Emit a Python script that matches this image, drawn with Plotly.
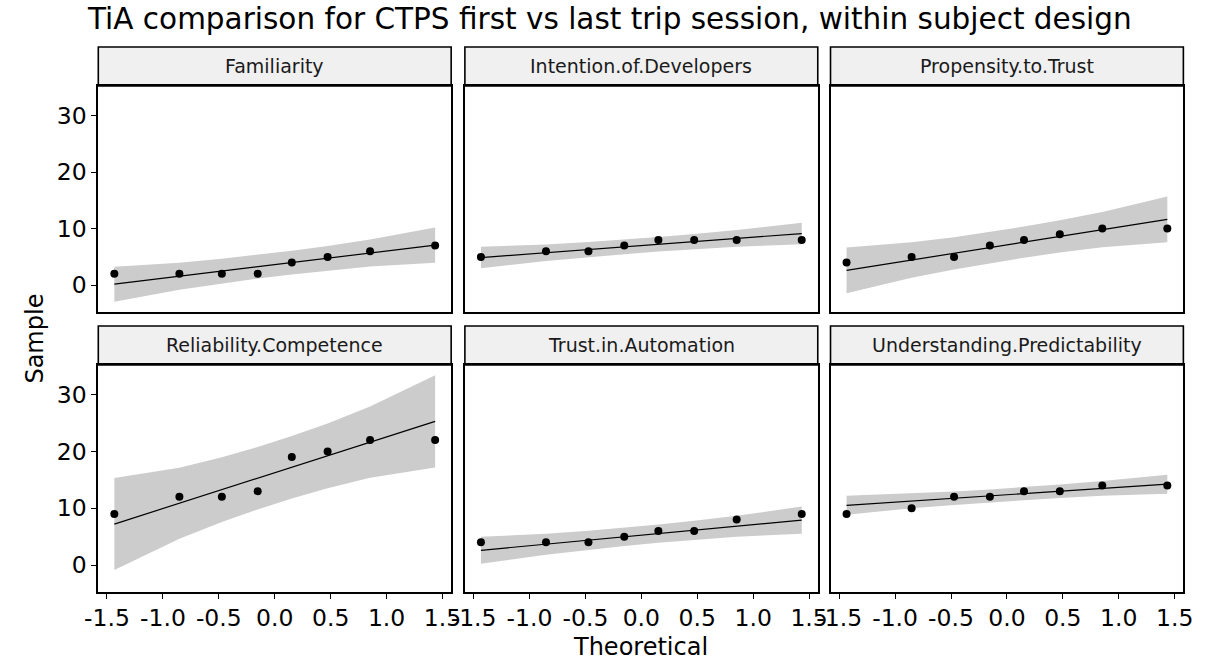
import numpy as np
from statistics import NormalDist
import plotly.graph_objects as go

# Sorted sample scores per TiA subscale (8 subjects each)
facets = ["Familiarity", "Intention.of.Developers", "Propensity.to.Trust",
          "Reliability.Competence", "Trust.in.Automation", "Understanding.Predictability"]
familiarity = [2, 2, 2, 2, 4, 5, 6, 7]
intention_of_developers = [5, 6, 6, 7, 8, 8, 8, 8]
propensity_to_trust = [4, 5, 5, 7, 8, 9, 10, 10]
reliability_competence = [9, 12, 12, 13, 19, 20, 22, 22]
trust_in_automation = [4, 4, 4, 5, 6, 6, 8, 9]
understanding_predictability = [9, 10, 12, 12, 13, 13, 14, 14]
samples = [familiarity, intention_of_developers, propensity_to_trust,
           reliability_competence, trust_in_automation, understanding_predictability]

x_ticks = [-1.5, -1.0, -0.5, 0.0, 0.5, 1.0, 1.5]
x_tick_labels = ["-1.5", "-1.0", "-0.5", "0.0", "0.5", "1.0", "1.5"]
y_ticks = [0, 10, 20, 30]
y_tick_labels = ["0", "10", "20", "30"]

title = "TiA comparison for CTPS first vs last trip session, within subject design"
conf_level = 0.95

nd = NormalDist()


def ppoints(n):
    a = 3 / 8 if n <= 10 else 0.5
    return [(i + 1 - a) / (n + 1 - 2 * a) for i in range(n)]


def qq_stats(values):
    """Theoretical quantiles, sorted sample, quartile line and pointwise band."""
    y = np.sort(np.asarray(values, dtype=float))
    n = len(y)
    p = np.array(ppoints(n))
    z = np.array([nd.inv_cdf(v) for v in p])
    q_x = np.quantile(y, [0.25, 0.75])
    q_z = np.array([nd.inv_cdf(0.25), nd.inv_cdf(0.75)])
    slope = (q_x[1] - q_x[0]) / (q_z[1] - q_z[0])
    intercept = q_x[0] - slope * q_z[0]
    zz = nd.inv_cdf(1 - (1 - conf_level) / 2)
    se = (slope / np.array([nd.pdf(v) for v in z])) * np.sqrt(p * (1 - p) / n)
    fit = intercept + slope * z
    return z, y, fit, fit + zz * se, fit - zz * se


stats = [qq_stats(s) for s in samples]

# Shared scales with 5% expansion, as in ggplot facets
all_x = np.concatenate([s[0] for s in stats])
all_y = np.concatenate([np.concatenate([s[1], s[3], s[4]]) for s in stats])
xr = [all_x.min(), all_x.max()]
yr = [all_y.min(), all_y.max()]
xpad = 0.05 * (xr[1] - xr[0])
ypad = 0.05 * (yr[1] - yr[0])
x_range = [xr[0] - xpad, xr[1] + xpad]
y_range = [yr[0] - ypad, yr[1] + ypad]

W, H = 1212, 662
col_px = [(86, 446), (460, 820), (833, 1193)]
row_px = [(86, 312), (365, 592)]
strip_px = [(47, 86), (326, 365)]

FONT = "DejaVu Sans, Arial, sans-serif"

fig = go.Figure()
layout = dict(
    width=W, height=H,
    margin=dict(l=0, r=0, t=0, b=0),
    paper_bgcolor="white", plot_bgcolor="white",
    showlegend=False,
    font=dict(family=FONT, color="black"),
)
shapes = []
annotations = []

for k, (name, (z, y, fit, upper, lower)) in enumerate(zip(facets, stats)):
    r, c = divmod(k, 3)
    idx = k + 1
    xa = "x" if idx == 1 else f"x{idx}"
    ya = "y" if idx == 1 else f"y{idx}"

    # confidence band
    fig.add_trace(go.Scatter(
        x=np.concatenate([z, z[::-1]]), y=np.concatenate([upper, lower[::-1]]),
        fill="toself", fillcolor="rgb(204,204,204)", line=dict(width=0),
        mode="lines", hoverinfo="skip", xaxis=xa, yaxis=ya))
    # reference line
    fig.add_trace(go.Scatter(
        x=z, y=fit, mode="lines", line=dict(color="black", width=1.2),
        xaxis=xa, yaxis=ya))
    # sample points
    fig.add_trace(go.Scatter(
        x=z, y=y, mode="markers", marker=dict(color="black", size=8, symbol="circle"),
        xaxis=xa, yaxis=ya))

    x0, x1 = col_px[c]
    y0, y1 = row_px[r]
    bottom_row = r == 1
    left_col = c == 0
    layout["xaxis" if idx == 1 else f"xaxis{idx}"] = dict(
        domain=[x0 / W, x1 / W], anchor=ya, range=x_range,
        showgrid=False, zeroline=False,
        showline=True, mirror=True, linecolor="black", linewidth=2,
        ticks="outside" if bottom_row else "", ticklen=5, tickwidth=1.3, tickcolor="black",
        tickvals=x_ticks, ticktext=x_tick_labels, ticklabelstandoff=-1,
        showticklabels=bottom_row, tickfont=dict(size=23.5, color="black"),
    )
    layout["yaxis" if idx == 1 else f"yaxis{idx}"] = dict(
        domain=[1 - y1 / H, 1 - y0 / H], anchor=xa, range=y_range,
        showgrid=False, zeroline=False,
        showline=True, mirror=True, linecolor="black", linewidth=2,
        ticks="outside" if left_col else "", ticklen=5, tickwidth=1.3, tickcolor="black",
        tickvals=y_ticks, ticktext=y_tick_labels,
        showticklabels=left_col, tickfont=dict(size=23.5, color="black"),
    )

    # facet strip
    s0, s1 = strip_px[r]
    shapes.append(dict(type="rect", xref="paper", yref="paper",
                       x0=x0 / W, x1=x1 / W, y0=1 - s1 / H, y1=1 - s0 / H,
                       fillcolor="#F0F0F0", line=dict(color="black", width=1.6),
                       layer="below"))
    annotations.append(dict(text=name, xref="paper", yref="paper",
                            x=(x0 + x1) / 2 / W, y=1 - (s0 + s1) / 2 / H,
                            xanchor="center", yanchor="middle", showarrow=False,
                            font=dict(size=19, color="#1A1A1A")))

annotations.append(dict(text=title, xref="paper", yref="paper", x=72 / W, y=1 - 19 / H,
                        xanchor="left", yanchor="middle", showarrow=False,
                        font=dict(size=29.5, color="black")))
annotations.append(dict(text="Theoretical", xref="paper", yref="paper",
                        x=(86 + 1193) / 2 / W, y=1 - 647 / H,
                        xanchor="center", yanchor="middle", showarrow=False,
                        font=dict(size=24, color="black")))
annotations.append(dict(text="Sample", xref="paper", yref="paper",
                        x=21 / W, y=1 - 339 / H, textangle=-90,
                        xanchor="center", yanchor="middle", showarrow=False,
                        font=dict(size=24, color="black")))

layout["shapes"] = shapes
layout["annotations"] = annotations
fig.update_layout(**layout)
fig.write_html("out.html")
